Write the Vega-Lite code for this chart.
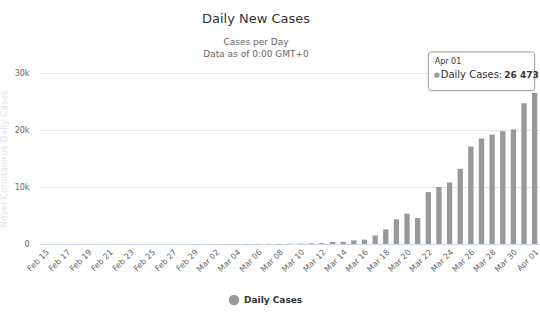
{
  "$schema": "https://vega.github.io/schema/vega-lite/v6.json",
  "autosize": {"type": "none"},
  "width": 500,
  "height": 171,
  "padding": {"left": 40, "top": 73, "right": 0, "bottom": 76},
  "background": "white",
  "config": {
    "font": "DejaVu Sans",
    "view": {"stroke": null}
  },
  "title": {
    "text": "Daily New Cases",
    "subtitle": ["Cases per Day", "Data as of 0:00 GMT+0"],
    "fontSize": 13,
    "fontWeight": "normal",
    "color": "#333333",
    "subtitleFontSize": 9,
    "subtitleColor": "#666666",
    "subtitlePadding": 12,
    "subtitleLineHeight": 12,
    "offset": 0,
    "dx": -34,
    "dy": 8,
    "anchor": "middle"
  },
  "datasets": {
    "cases": [
      {"day": "Feb 15", "cases": 0}, {"day": "Feb 16", "cases": 0}, {"day": "Feb 17", "cases": 0},
      {"day": "Feb 18", "cases": 0}, {"day": "Feb 19", "cases": 0}, {"day": "Feb 20", "cases": 2},
      {"day": "Feb 21", "cases": 0}, {"day": "Feb 22", "cases": 0}, {"day": "Feb 23", "cases": 0},
      {"day": "Feb 24", "cases": 0}, {"day": "Feb 25", "cases": 1}, {"day": "Feb 26", "cases": 0},
      {"day": "Feb 27", "cases": 0}, {"day": "Feb 28", "cases": 1}, {"day": "Feb 29", "cases": 8},
      {"day": "Mar 01", "cases": 8}, {"day": "Mar 02", "cases": 15}, {"day": "Mar 03", "cases": 20},
      {"day": "Mar 04", "cases": 25}, {"day": "Mar 05", "cases": 30}, {"day": "Mar 06", "cases": 35},
      {"day": "Mar 07", "cases": 40}, {"day": "Mar 08", "cases": 45}, {"day": "Mar 09", "cases": 50},
      {"day": "Mar 10", "cases": 60}, {"day": "Mar 11", "cases": 120}, {"day": "Mar 12", "cases": 150},
      {"day": "Mar 13", "cases": 350}, {"day": "Mar 14", "cases": 380}, {"day": "Mar 15", "cases": 640},
      {"day": "Mar 16", "cases": 760}, {"day": "Mar 17", "cases": 1500}, {"day": "Mar 18", "cases": 2570},
      {"day": "Mar 19", "cases": 4330}, {"day": "Mar 20", "cases": 5320}, {"day": "Mar 21", "cases": 4560},
      {"day": "Mar 22", "cases": 9100}, {"day": "Mar 23", "cases": 10000}, {"day": "Mar 24", "cases": 10800},
      {"day": "Mar 25", "cases": 13200}, {"day": "Mar 26", "cases": 17100}, {"day": "Mar 27", "cases": 18500},
      {"day": "Mar 28", "cases": 19200}, {"day": "Mar 29", "cases": 19800}, {"day": "Mar 30", "cases": 20100},
      {"day": "Mar 31", "cases": 24700}, {"day": "Apr 01", "cases": 26473}
    ]
  },
  "data": {"name": "cases"},
  "layer": [
    {
      "mark": {"type": "bar", "color": "#999999"},
      "encoding": {
        "x": {
          "field": "day",
          "type": "ordinal",
          "sort": null,
          "scale": {
            "domain": ["Feb 15","Feb 16","Feb 17","Feb 18","Feb 19","Feb 20","Feb 21","Feb 22","Feb 23","Feb 24","Feb 25","Feb 26","Feb 27","Feb 28","Feb 29","Mar 01","Mar 02","Mar 03","Mar 04","Mar 05","Mar 06","Mar 07","Mar 08","Mar 09","Mar 10","Mar 11","Mar 12","Mar 13","Mar 14","Mar 15","Mar 16","Mar 17","Mar 18","Mar 19","Mar 20","Mar 21","Mar 22","Mar 23","Mar 24","Mar 25","Mar 26","Mar 27","Mar 28","Mar 29","Mar 30","Mar 31","Apr 01"],
            "paddingInner": 0.5,
            "paddingOuter": 0.25
          },
          "axis": {
            "title": null,
            "values": ["Feb 15","Feb 17","Feb 19","Feb 21","Feb 23","Feb 25","Feb 27","Feb 29","Mar 02","Mar 04","Mar 06","Mar 08","Mar 10","Mar 12","Mar 14","Mar 16","Mar 18","Mar 20","Mar 22","Mar 24","Mar 26","Mar 28","Mar 30","Apr 01"],
            "labelAngle": -45,
            "labelFontSize": 8,
            "labelColor": "#666666",
            "labelPadding": 4,
            "ticks": false,
            "domainColor": "#ccd6eb",
            "grid": false
          }
        },
        "y": {
          "field": "cases",
          "type": "quantitative",
          "scale": {"domain": [0, 30000]},
          "axis": {
            "title": "Novel Coronavirus Daily Cases",
            "titleColor": "#dde4ef",
            "titleFontSize": 9,
            "titleFontWeight": "normal",
            "titlePadding": 6,
            "values": [0, 10000, 20000, 30000],
            "labelExpr": "datum.value == 0 ? '0' : format(datum.value / 1000, 'd') + 'k'",
            "labelFontSize": 8,
            "labelColor": "#666666",
            "labelPadding": 11,
            "domain": false,
            "ticks": false,
            "gridColor": "#e6e6e6"
          }
        },
        "color": {
          "datum": "Daily Cases",
          "scale": {"range": ["#999999"]},
          "legend": {
            "title": null,
            "orient": "none",
            "legendX": 188,
            "legendY": 221,
            "symbolType": "circle",
            "symbolSize": 110,
            "symbolOpacity": 1,
            "labelFontSize": 9,
            "labelFontWeight": "bold",
            "labelColor": "#333333"
          }
        }
      }
    },
    {
      "transform": [{"filter": "datum.day == 'Apr 01'"}],
      "mark": {"type": "rect", "fill": "white", "fillOpacity": 0.92, "stroke": "#999999", "strokeWidth": 1, "cornerRadius": 3},
      "encoding": {
        "x": {"datum": "Mar 22", "type": "ordinal"},
        "x2": {"datum": "Apr 01"},
        "x2Offset": 25,
        "xOffset": -4,
        "y": {"datum": 33700, "type": "quantitative"},
        "y2": {"datum": 26900}
      }
    },
    {
      "transform": [{"filter": "datum.day == 'Apr 01'"}],
      "mark": {"type": "text", "align": "left", "baseline": "middle", "dx": -100, "dy": -31, "fontSize": 8, "color": "#333333"},
      "encoding": {
        "x": {"field": "day", "type": "ordinal"},
        "y": {"field": "cases", "type": "quantitative"},
        "text": {"value": "Apr 01"}
      }
    },
    {
      "transform": [{"filter": "datum.day == 'Apr 01'"}],
      "mark": {"type": "text", "align": "left", "baseline": "middle", "dx": -101, "dy": -18, "fontSize": 7, "color": "#999999"},
      "encoding": {
        "x": {"field": "day", "type": "ordinal"},
        "y": {"field": "cases", "type": "quantitative"},
        "text": {"value": "●"}
      }
    },
    {
      "transform": [{"filter": "datum.day == 'Apr 01'"}],
      "mark": {"type": "text", "align": "left", "baseline": "middle", "dx": -94, "dy": -18, "fontSize": 10, "color": "#333333"},
      "encoding": {
        "x": {"field": "day", "type": "ordinal"},
        "y": {"field": "cases", "type": "quantitative"},
        "text": {"value": "Daily Cases:"}
      }
    },
    {
      "transform": [{"filter": "datum.day == 'Apr 01'"}],
      "mark": {"type": "text", "align": "right", "baseline": "middle", "dx": 4, "dy": -18, "fontSize": 9, "fontWeight": "bold", "color": "#333333"},
      "encoding": {
        "x": {"field": "day", "type": "ordinal"},
        "y": {"field": "cases", "type": "quantitative"},
        "text": {"value": "26 473"}
      }
    }
  ]
}
